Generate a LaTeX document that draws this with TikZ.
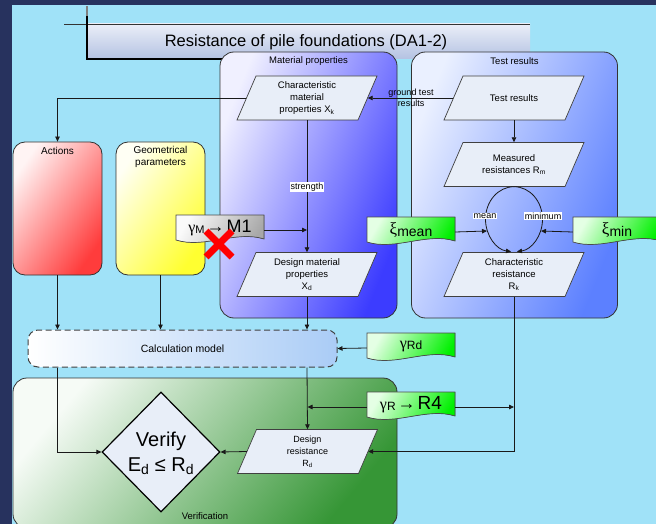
\documentclass[tikz,border=0pt]{standalone}
\usepackage{fontspec}
\setmainfont{Liberation Sans}
\newfontfamily\grk{Liberation Serif}
\usetikzlibrary{arrows.meta,calc,shapes.geometric}
\definecolor{bgdark}{HTML}{27325E}
\definecolor{bglight}{HTML}{A0E2F8}
\definecolor{parfill}{HTML}{E8EEF8}
\definecolor{titletop}{HTML}{EAEEF8}
\definecolor{titlebot}{HTML}{B4C2E2}
\definecolor{matA}{HTML}{F0F0FF}
\definecolor{matB}{HTML}{3C3CFF}
\definecolor{tstA}{HTML}{EAF0FF}
\definecolor{tstB}{HTML}{5C80FF}
\definecolor{redA}{HTML}{FFF4F4}
\definecolor{redB}{HTML}{FF3C3C}
\definecolor{yelA}{HTML}{FFFFF4}
\definecolor{yelB}{HTML}{FFFF30}
\definecolor{grnA}{HTML}{E4FFE4}
\definecolor{grnB}{HTML}{00F000}
\definecolor{verA}{HTML}{F6FBF6}
\definecolor{verB}{HTML}{369636}
\definecolor{calcB}{HTML}{AACCF6}
\definecolor{gryA}{HTML}{FAFAFA}
\definecolor{gryB}{HTML}{A8A8A8}
\newcommand{\parabox}[5][9.5]{%
  \filldraw[parline] (#3-51,#4-22) -- (#3+70,#4-22) -- (#3+51,#4+22) -- (#3-70,#4+22) -- cycle;
  \node[parnode, font=\fontsize{#1}{12}\selectfont] (#2) at (#3,#4) {#5};}
\newcommand{\docbox}[5]{% name, xleft, ytop, fill colours, text
  \filldraw[#4, draw=black!70, line width=0.7pt]
    (#2,#3) -- (#2+88,#3) -- (#2+88,#3+24)
    .. controls (#2+60,#3+15) and (#2+28,#3+34) .. (#2,#3+25) -- cycle;
  \node[minimum width=88pt, minimum height=28pt, inner sep=0pt] (#1) at (#2+44,#3+15) {};
  \node[inner sep=0pt] (#1-t) at (#2+44,#3+13) {#5};}
\begin{document}
\begin{tikzpicture}[x=1pt,y=-1pt,
  box/.style={draw=black!80, line width=0.8pt, rounded corners=14pt, inner sep=0pt},
  parnode/.style={rectangle, minimum width=121pt, minimum height=44pt, inner sep=0pt, align=center},
  parline/.style={draw=black!75, fill=parfill, line width=0.7pt},
  arr/.style={-{Triangle[length=5pt,width=4.5pt]}, line width=0.8pt, draw=black!90},
  lbl/.style={font=\fontsize{9}{11}\selectfont, inner sep=1pt, align=center},
  wlbl/.style={lbl, fill=white},
  ttl/.style={font=\fontsize{9.5}{11.5}\selectfont, inner sep=0pt, align=center}]
\useasboundingbox (0,0) rectangle (656,524);
\fill[bgdark] (0,0) rectangle (656,524);
\fill[bglight] (12,5) rectangle (656,524);
% title
\fill[top color=titletop, bottom color=titlebot] (87,24) rectangle (530,59);
\draw[line width=0.6pt, black!80] (64,24) -- (530,24);
\draw[line width=1.2pt, gray] (87,6) -- (87,16);
\draw[line width=1.6pt] (87,16) -- (87,59) -- (222,59);
\node[font=\fontsize{16.5}{18}\selectfont, inner sep=0pt] (title) at (306,42) {Resistance of pile foundations (DA1-2)};
% big boxes
\node[box, minimum width=177pt, minimum height=266pt, top color=matA, bottom color=matB, shading angle=68] (matbox) at (308.5,185) {};
\node[ttl] (matttl) at (308.5,61) {Material properties};
\node[box, minimum width=206pt, minimum height=266pt, top color=tstA, bottom color=tstB, shading angle=68] (tstbox) at (514.5,185) {};
\node[ttl] (tstttl) at (514.5,61) {Test results};
\node[box, rounded corners=12pt, minimum width=89pt, minimum height=133pt, top color=redA, bottom color=redB, shading angle=55] (actions) at (57.5,208.5) {};
\node[ttl, font=\fontsize{10}{12}\selectfont] (actttl) at (57.5,151) {Actions};
\node[box, rounded corners=12pt, minimum width=89pt, minimum height=133pt, top color=yelA, bottom color=yelB, shading angle=55] (geo) at (160.5,208.5) {};
\node[ttl, font=\fontsize{10}{12}\selectfont] (geottl) at (160.5,157) {Geometrical\\parameters};
\node[box, minimum width=384pt, minimum height=150pt, top color=verA, bottom color=verB, shading angle=50] (verif) at (205,453) {};
\node[ttl] (verttl) at (205,516) {Verification};
\node[draw=black!75, dashed, dash pattern=on 6pt off 3.5pt, line width=1pt, rounded corners=10pt,
      minimum width=309pt, minimum height=37pt, left color=white, right color=calcB,
      font=\fontsize{10.5}{12}\selectfont] (calc) at (182.5,348.5) {Calculation model};
% parallelograms
\parabox{Xk}{307}{98}{Characteristic\\material\\properties X\textsubscript{k}}
\parabox{Test}{514}{98}{Test results}
\parabox{Rm}{514}{164.5}{Measured\\resistances R\textsubscript{m}}
\parabox{Rk}{514}{274.5}{Characteristic\\resistance\\R\textsubscript{k}}
\parabox{Xd}{307}{274.5}{Design material\\properties\\X\textsubscript{d}}
\parabox[9]{Rd}{307.5}{451.5}{Design\\resistance\\R\textsubscript{d}}
% diamond
\node[diamond, draw=black, line width=1.2pt, fill=parfill, minimum width=118pt, minimum height=120pt, inner sep=0pt] (verify) at (161,452) {};
\node[font=\fontsize{20}{25}\selectfont, align=center, inner sep=0pt] (verifyt) at (161,453) {Verify\\E\textsubscript{d} ≤ R\textsubscript{d}};
% document boxes
\docbox{gM}{176}{215}{top color=gryA, bottom color=gryB, shading angle=60}{{\grk\fontsize{16}{16}\selectfont γ}\raisebox{-1pt}{\fontsize{11}{11}\selectfont M}\hspace{2pt}{\fontsize{18}{18}\selectfont →}\hspace{2pt}{\fontsize{18}{18}\selectfont M1}}
\docbox{xmean}{367}{217}{top color=grnA, bottom color=grnB, shading angle=60}{{\grk\fontsize{17}{17}\selectfont ξ}\raisebox{-2pt}{\fontsize{14}{14}\selectfont mean}}
\docbox{xmin}{573}{217}{top color=grnA, bottom color=grnB, shading angle=60}{{\grk\fontsize{17}{17}\selectfont ξ}\raisebox{-2pt}{\fontsize{14}{14}\selectfont min}}
\docbox{gRd}{367}{333}{top color=grnA, bottom color=grnB, shading angle=60}{{\grk\fontsize{16}{16}\selectfont γ}\raisebox{-1pt}{\fontsize{12}{12}\selectfont Rd}}
\docbox{gR}{367}{392}{top color=grnA, bottom color=grnB, shading angle=60}{{\grk\fontsize{16}{16}\selectfont γ}\raisebox{-1pt}{\fontsize{12}{12}\selectfont R}\hspace{2pt}{\fontsize{18}{18}\selectfont →}\hspace{2pt}{\fontsize{19}{19}\selectfont R4}}
% circle points
\coordinate (cirL) at (487,231);
\coordinate (cirR) at (541,231);
% connectors
\draw[arr] (Xk.west) -| (actions.north);
\draw[arr] (Test.west) -- (Xk.east);
\node[lbl] (gtr) at (411,97.5) {ground test\\results};
\draw[arr] (Test.south) -- (Rm.north);
\draw[arr] (Rm.south) arc[start angle=90, end angle=264, x radius=28.5pt, y radius=32.5pt];
\draw[arr] (Rm.south) arc[start angle=90, end angle=-84, x radius=28.5pt, y radius=32.5pt];
\node[wlbl] (meanl) at (485,216) {mean};
\node[wlbl] (minl) at (543,216) {minimum};
\draw[arr] (xmean.east) -- (cirL);
\draw[arr] (xmin.west) -- (cirR);
\draw[arr] (Xk.south) -- (Xd.north);
\node[wlbl] (str) at (307,187) {strength};
\draw[arr] (gM.east) -- (gM.east -| Xk.south);
\draw[arr] (Xd.south) -- (Xd.south |- calc.north);
\draw[arr] (actions.south) -- (actions.south |- calc.north);
\draw[arr] (geo.south) -- (geo.south |- calc.north);
\draw[arr] (gRd.west) -- (calc.east);
\draw[arr] (Xd.south |- calc.south) -- (Rd.north);
\draw[arr] (gR.west) -- (gR.west -| Rd.north);
\draw[arr] (gR.east) -- (gR.east -| Rk.south);
\draw[arr] (Rk.south) |- (Rd.east);
\draw[arr] (actions.south |- calc.south) |- (verify.west);
\draw[arr] (Rd.west) -- (verify.east);
% red cross
\draw[red, line width=7pt] (206,231) -- (232,257) (232,231) -- (206,257);
\end{tikzpicture}
\end{document}
